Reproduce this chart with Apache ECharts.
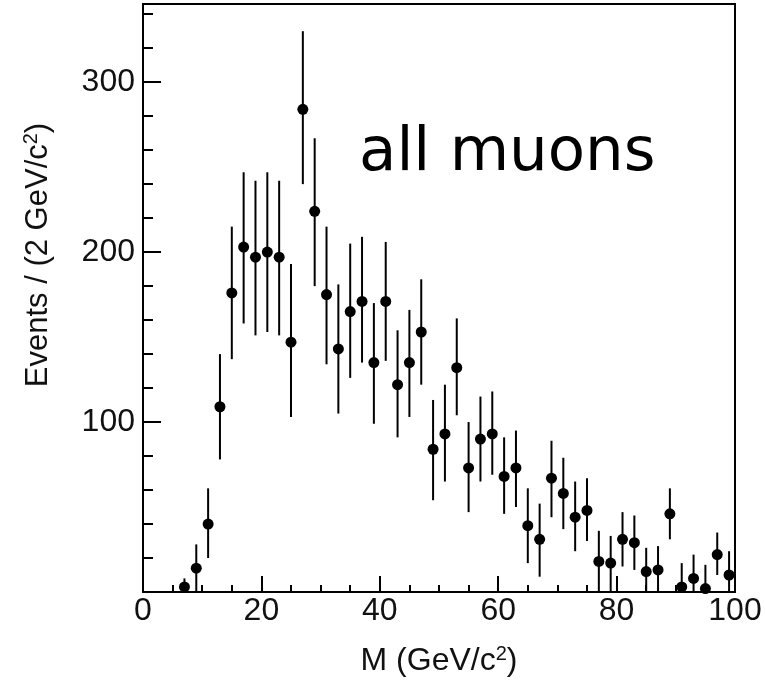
<!DOCTYPE html>
<html>
<head>
<meta charset="utf-8">
<script src="https://cdn.jsdelivr.net/npm/echarts@6/dist/echarts.min.js"></script>
<style>
  html, body { margin: 0; padding: 0; background: #fff; }
  #chart { width: 765px; height: 684px; }
</style>
</head>
<body>
<div id="chart"></div>
<script>
// Dimuon invariant mass, 2 GeV/c^2 bins (bin centres)
const massBins = [7, 9, 11, 13, 15, 17, 19, 21, 23, 25, 27, 29, 31, 33, 35, 37, 39, 41, 43, 45,
  47, 49, 51, 53, 55, 57, 59, 61, 63, 65, 67, 69, 71, 73, 75, 77, 79, 81, 83, 85,
  87, 89, 91, 93, 95, 97, 99];
// Events per bin
const events = [3, 14, 40, 109, 176, 203, 197, 200, 197, 147, 284, 224, 175, 143, 165, 171, 135, 171, 122, 135,
  153, 84, 93, 132, 73, 90, 93, 68, 73, 39, 31, 67, 58, 44, 48, 18, 17, 31, 29, 12,
  13, 46, 3, 8, 2, 22, 10];
// Lower / upper ends of the error bars
const errLow = [0, 0, 20, 78, 137, 158, 151, 153, 151, 103, 240, 180, 134, 105, 126, 135, 99, 136, 91, 103,
  122, 54, 65, 104, 47, 65, 69, 46, 50, 17, 9, 44, 37, 24, 30, 0, 0, 15, 13, 0,
  0, 31, 0, 0, 0, 10, 0];
const errHigh = [8, 28, 61, 140, 215, 247, 242, 247, 242, 193, 330, 267, 215, 181, 205, 209, 170, 206, 154, 166,
  184, 113, 122, 161, 100, 115, 118, 91, 95, 61, 52, 89, 79, 65, 67, 36, 33, 47, 45, 26,
  27, 61, 17, 22, 16, 35, 24];

const xTickStep = 20;
const yTickStep = 100;
const yMinorStep = 20;

const points = massBins.map((m, i) => [m, events[i]]);
const bars = massBins.map((m, i) => [m, errLow[i], errHigh[i]]);

const FONT = '"Liberation Sans", Arial, Helvetica, sans-serif';
const INK = '#000';

const chart = echarts.init(document.getElementById('chart'), null, { renderer: 'canvas' });

chart.setOption({
  animation: false,
  backgroundColor: '#fff',
  grid: {
    left: 143, right: 30, top: 4, bottom: 92,
    show: true, borderColor: INK, borderWidth: 2, backgroundColor: 'transparent'
  },
  xAxis: {
    type: 'value', min: 0, max: 100, interval: xTickStep,
    axisLine: { show: true, onZero: false, lineStyle: { color: INK, width: 2 } },
    axisTick: { show: true, inside: true, length: 16, lineStyle: { color: INK, width: 2 } },
    minorTick: { show: true, splitNumber: 4, length: 7, lineStyle: { color: INK, width: 2 } },
    splitLine: { show: false },
    axisLabel: { fontFamily: FONT, fontSize: 32, color: '#111', margin: 3 },
    name: 'M (GeV/c{sup|2})',
    nameLocation: 'middle',
    nameGap: 52,
    nameTextStyle: {
      fontFamily: FONT, fontSize: 32, color: '#111',
      rich: { sup: { fontFamily: FONT, fontSize: 20, color: '#111', verticalAlign: 'top', padding: [0, 0, 14, 0] } }
    }
  },
  yAxis: [
    {
      type: 'value', position: 'left', min: 0, max: 346, interval: yTickStep,
      axisLine: { show: true, onZero: false, lineStyle: { color: INK, width: 2 } },
      axisTick: { show: true, inside: true, length: 18, lineStyle: { color: INK, width: 2 } },
      splitLine: { show: false },
      axisLabel: { fontFamily: FONT, fontSize: 32, color: '#111', margin: 8, showMinLabel: false, showMaxLabel: false }
    },
    {
      type: 'value', position: 'left', min: 0, max: 346, interval: yMinorStep,
      axisLine: { show: false },
      axisTick: { show: true, inside: true, length: 10, lineStyle: { color: INK, width: 2 } },
      splitLine: { show: false },
      axisLabel: { show: false }
    }
  ],
  graphic: [
    {
      type: 'text', x: 38, y: 255, rotation: Math.PI / 2,
      style: {
        text: 'Events / (2 GeV/c{sup|2})',
        fontFamily: FONT, fontSize: 31, fill: '#111',
        align: 'center', verticalAlign: 'middle',
        rich: { sup: { fontFamily: FONT, fontSize: 20, fill: '#111', verticalAlign: 'top', padding: [0, 0, 14, 0] } }
      }
    },
    {
      type: 'text', x: 359, y: 154,
      style: {
        text: 'all muons',
        fontFamily: '"DejaVu Sans", sans-serif', fontSize: 61, fill: '#000',
        align: 'left', verticalAlign: 'middle'
      }
    }
  ],
  series: [
    {
      type: 'custom',
      xAxisIndex: 0, yAxisIndex: 0,
      data: bars,
      renderItem: function (params, api) {
        const p1 = api.coord([api.value(0), api.value(1)]);
        const p2 = api.coord([api.value(0), api.value(2)]);
        return {
          type: 'line',
          shape: { x1: p1[0], y1: p1[1], x2: p2[0], y2: p2[1] },
          style: { stroke: INK, lineWidth: 2 }
        };
      },
      z: 2
    },
    {
      type: 'scatter',
      xAxisIndex: 0, yAxisIndex: 0,
      data: points,
      symbol: 'circle',
      symbolSize: 11,
      itemStyle: { color: INK, opacity: 1 },
      z: 3
    }
  ]
});
</script>
</body>
</html>
